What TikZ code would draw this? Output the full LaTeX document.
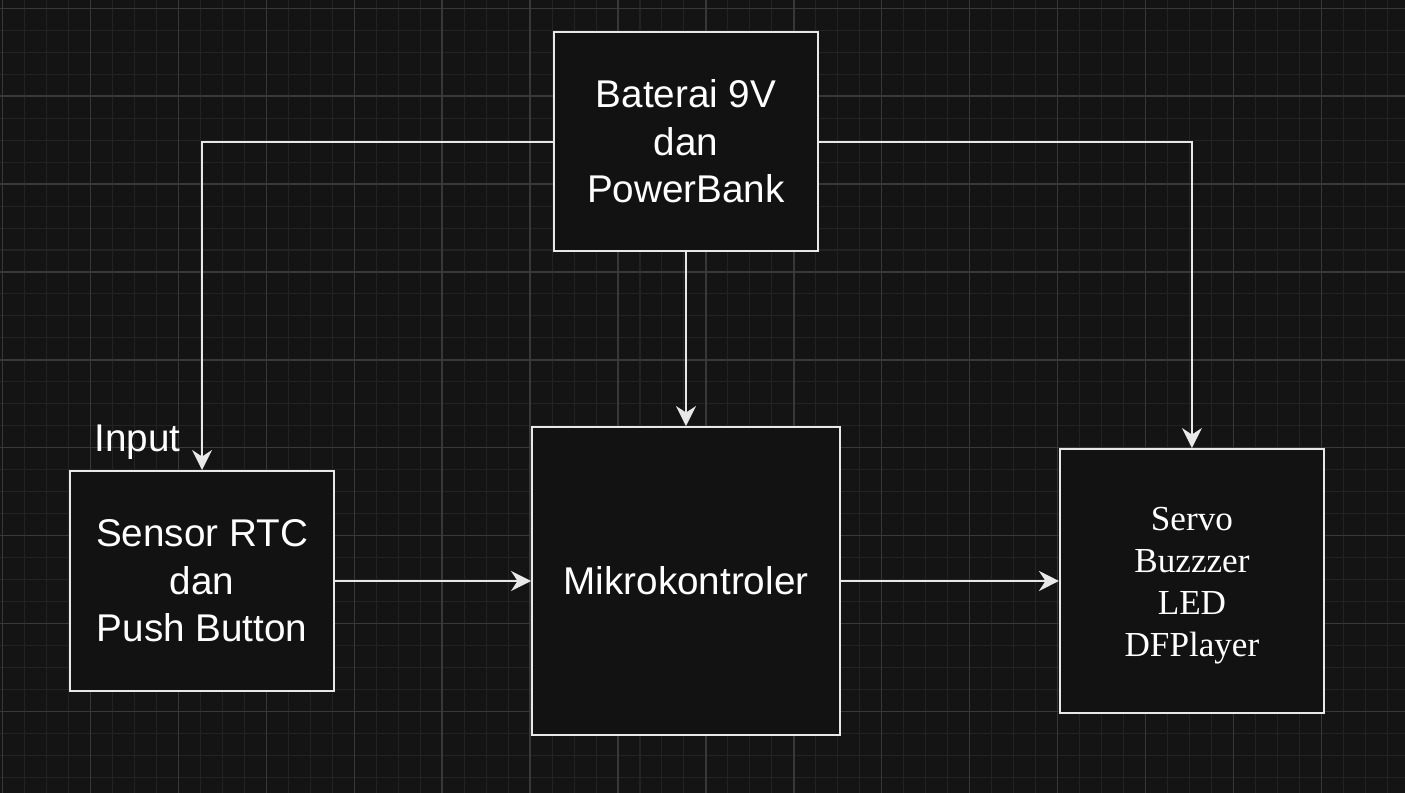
\documentclass[tikz,border=0pt]{standalone}
\usepackage{fontspec}
\setmainfont{Liberation Sans}
\newfontfamily\boxserif{Liberation Serif}
\usepackage{tikz}
\usetikzlibrary{arrows.meta,positioning}
\definecolor{canvas}{HTML}{141414}
\definecolor{gridminor}{HTML}{232323}
\definecolor{gridmajor}{HTML}{383838}
\definecolor{wire}{HTML}{E8E8E8}
\definecolor{boxfill}{HTML}{121212}
\tikzset{
	>=Latex,
	block/.style={
		rectangle,
		draw=wire,
		fill=boxfill,
		line width=1.1pt,
		inner sep=0pt,
		align=center,
		text=white,
		font=\fontsize{22}{27}\selectfont
	},
	wireline/.style={
		-{Stealth[length=4mm,width=4mm,inset=1.3mm]},
		draw=wire,
		line width=1.1pt
	}
}

\begin{document}
\begin{tikzpicture}[
	node distance=3.5cm and 4cm,
	lbl/.style={text=white, inner sep=0pt, font=\fontsize{22}{27}\selectfont}
	]
	
	%--------------------
	% Canvas and grid
	%--------------------
	\useasboundingbox (0,0) rectangle (28.1,-15.86);
	\fill[canvas] (0,0) rectangle (28.1,-15.86);
	\begin{scope}
		\clip (0,0) rectangle (28.1,-15.86);
		\foreach \i in {-1,...,64}
			\draw[gridminor, line width=0.6pt] ({0.054+0.4395*\i},0) -- ++(0,-15.86);
		\foreach \j in {-1,...,37}
			\draw[gridminor, line width=0.6pt] (0,{-0.166-0.4395*\j}) -- ++(28.1,0);
		\foreach \i in {0,...,16}
			\draw[gridmajor, line width=0.8pt] ({0.054+1.758*\i},0) -- ++(0,-15.86);
		\foreach \j in {0,...,9}
			\draw[gridmajor, line width=0.8pt] (0,{-0.166-1.758*\j}) -- ++(28.1,0);
	\end{scope}
	
	%--------------------
	% Controller
	%--------------------
	\node[block, minimum width=6.16cm, minimum height=6.16cm] (mcu) at (13.72,-11.62) {Mikrokontroler};
	
	%--------------------
	% Input, power, output
	%--------------------
	\node[block, minimum width=5.28cm, minimum height=4.4cm, left=3.92cm of mcu] (sensor) {Sensor RTC\\dan\\Push Button};
	\node[block, minimum width=5.28cm, minimum height=4.38cm, above=3.48cm of mcu] (battery) {Baterai 9V\\dan\\PowerBank};
	\node[block, minimum width=5.28cm, minimum height=5.28cm, right=4.36cm of mcu,
		font=\boxserif\fontsize{20}{24}\selectfont] (actuator) {\\[-0.2cm]Servo\\Buzzzer\\LED\\DFPlayer};
	
	\node[lbl, above right=0.2cm and 0.5cm of sensor.north west] (inputlabel) {Input};
	
	%--------------------
	% Connections
	%--------------------
	\draw[wireline] (battery.west) -| (sensor.north);
	\draw[wireline] (battery.east) -| (actuator.north);
	\draw[wireline] (battery.south) -- (mcu.north);
	\draw[wireline] (sensor.east) -- (mcu.west);
	\draw[wireline] (mcu.east) -- (actuator.west);
	
\end{tikzpicture}
\end{document}
